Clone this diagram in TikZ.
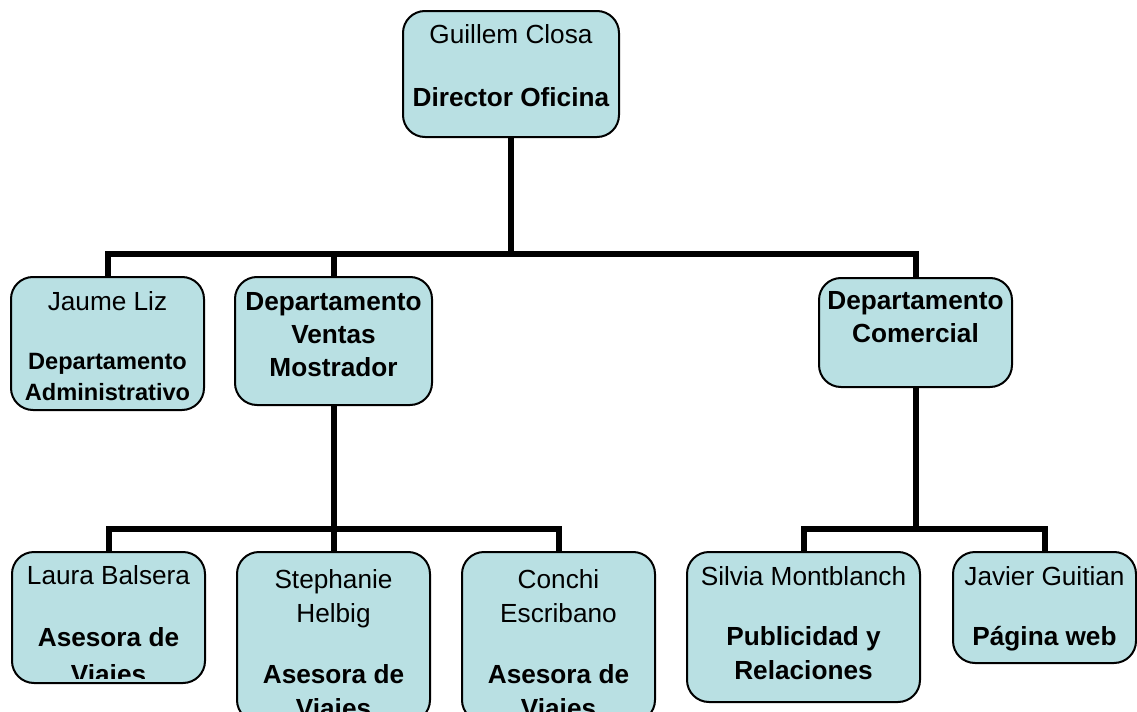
\documentclass[tikz,border=0pt]{standalone}
\usepackage{fontspec}
\setmainfont{Liberation Sans}
\usetikzlibrary{positioning}
\definecolor{postfill}{RGB}{185,224,227}
\tikzstyle{post}=[rectangle,draw=black,fill=postfill,line width=1pt,rounded corners=11pt,inner sep=0pt]
\tikzstyle{posttext}=[align=center,inner sep=0pt,font=\fontsize{13.1pt}{15.5pt}\selectfont]
\tikzstyle{posttextlow}=[posttext,font=\fontsize{13.1pt}{17pt}\selectfont]
\tikzstyle{wire}=[line width=3pt,line join=miter]

\begin{document}
\begin{tikzpicture}[x=0.5pt,y=-0.5pt]
\useasboundingbox (0,0) rectangle (1137,712);
\clip (0,0) rectangle (1137,712);

\node[post,minimum width=108pt,minimum height=63pt] (dir) at (511,74) {};
\node[posttext,below=7.3pt of dir.north] (dir-t) {Guillem Closa\\[16pt]\textbf{Director Oficina}};

\node[post,minimum width=96.5pt,minimum height=66.5pt] (adm) at (107.5,343.5) {};
\node[post,minimum width=98.5pt,minimum height=64pt] (ven) at (333.5,341) {};
\node[post,minimum width=96.5pt,minimum height=54.5pt] (com) at (915.5,332.5) {};

\node[posttext,below=7.8pt of adm.north] (adm-t) {Jaume Liz\\[14pt]{\fontsize{11.8pt}{15.5pt}\selectfont\bfseries Departamento}\\{\fontsize{11.8pt}{15.5pt}\selectfont\bfseries Administrativo}};
\node[posttext,below=7.8pt of ven.north] (ven-t) {\textbf{Departamento}\\[1pt]\textbf{Ventas}\\[1pt]\textbf{Mostrador}};
\node[posttext,below=6.8pt of com.north] (com-t) {\textbf{Departamento}\\[1pt]\textbf{Comercial}};

\node[post,minimum width=96.5pt,minimum height=65.5pt] (lau) at (108.5,617.5) {};
\node[post,minimum width=96.5pt,minimum height=85pt] (ste) at (333.5,637) {};
\node[post,minimum width=96.5pt,minimum height=85pt] (con) at (558.5,637) {};
\node[post,minimum width=116.5pt,minimum height=75pt] (sil) at (803.5,627) {};
\node[post,minimum width=91.5pt,minimum height=55.5pt] (jav) at (1044.5,607.5) {};

\begin{scope}
\clip ([yshift=3pt]lau.south west) rectangle (lau.north east);
\node[posttextlow,below=7.3pt of lau.north] (lau-t) {Laura Balsera\\[14pt]\textbf{Asesora de}\\[1.5pt]\textbf{Viajes}};
\end{scope}
\node[posttextlow,below=9.3pt of ste.north] (ste-t) {Stephanie\\Helbig\\[13.5pt]\textbf{Asesora de}\\\textbf{Viajes}};
\node[posttextlow,below=9.3pt of con.north] (con-t) {Conchi\\Escribano\\[13.5pt]\textbf{Asesora de}\\\textbf{Viajes}};
\node[posttextlow,below=7.8pt of sil.north] (sil-t) {Silvia Montblanch\\[13pt]\textbf{Publicidad y}\\\textbf{Relaciones}};
\node[posttextlow,below=7.8pt of jav.north] (jav-t) {Javier Guitian\\[13pt]\textbf{Página web}};

\coordinate (bus) at (511,254);
\draw[wire] (dir.south) -- (bus);
\draw[wire] (adm.north) |- (bus) -| (com.north);
\draw[wire] (ven.north) -- (ven.north |- bus);

\coordinate (busv) at (333.5,529);
\draw[wire] (ven.south) -- (busv);
\draw[wire] (lau.north) |- (busv) -| (con.north);
\draw[wire] (ste.north) -- (ste.north |- busv);

\coordinate (busc) at (915.5,529);
\draw[wire] (com.south) -- (busc);
\draw[wire] (sil.north) |- (busc) -| (jav.north);

\end{tikzpicture}
\end{document}
